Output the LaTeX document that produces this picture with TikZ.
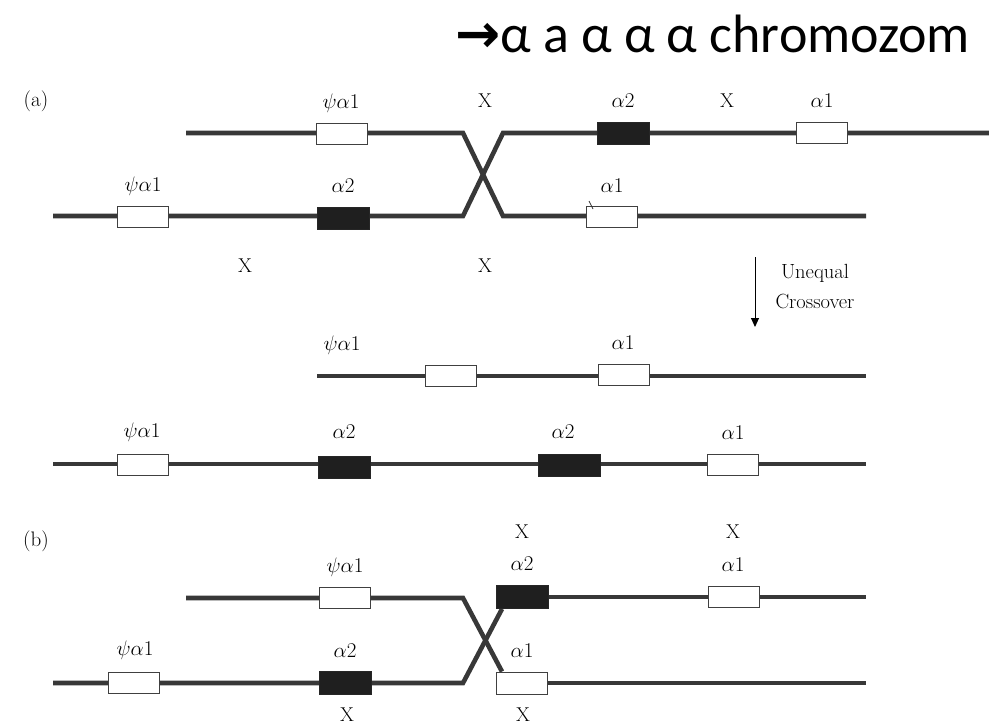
\documentclass[tikz,border=0pt]{standalone}
\usepackage{fix-cm}
\usepackage{fontspec}
\newfontfamily\titlefont{Carlito}
\newfontfamily\arrowfont{DejaVu Sans}
\usetikzlibrary{arrows.meta}
\tikzset{
  strand/.style={line width=4.6pt, draw=black!78, line join=miter},
  whitegene/.style={draw=black!75, line width=0.9pt, fill=white, minimum width=51, minimum height=21, inner sep=0pt},
  blackgene/.style={draw=black!85, line width=0.9pt, fill=black!88, minimum width=52, minimum height=22, inner sep=0pt},
  lbl/.style={font=\fontsize{21}{25}\selectfont, inner sep=0pt},
  xlbl/.style={font=\fontsize{20}{24}\selectfont, inner sep=0pt},
}
\begin{document}
\begin{tikzpicture}[x=1pt,y=-1pt]
\useasboundingbox (0,0) rectangle (989,726);
% title
\node[anchor=base west, inner sep=0pt, font=\fontsize{54}{58}\selectfont] (title) at (455,52) {{\arrowfont\bfseries →}\titlefont α a α α α chromozom};

% ================= (a) =================
\node[lbl] (la) at (36,101) {(a)};
\coordinate (a1s) at (186,133);
\coordinate (a1k) at (463,133);
\coordinate (a1d) at (503,216);
\coordinate (a1e) at (866,216);
\coordinate (a2s) at (53,216);
\coordinate (a2k) at (463,216);
\coordinate (a2u) at (503,133);
\coordinate (a2e) at (989,133);
\draw[strand] (a1s) -- (a1k) -- (a1d) -- (a1e);
\draw[strand] (a2s) -- (a2k) -- (a2u) -- (a2e);
\node[whitegene] (ta1) at (342,134) {};
\node[blackgene] (ta2) at (623,133) {};
\node[whitegene] (ta3) at (822,133) {};
\node[whitegene] (ba1) at (143,217) {};
\node[blackgene] (ba2) at (343,218) {};
\node[whitegene] (ba3) at (612,217) {};
\draw[black!80, line width=0.8pt] (ba3.north west) ++(3,-5) coordinate (tk1) -- ++(4,8) coordinate (tk2);
\node[lbl] (tl1) at (341,103) {$\psi\alpha1$};
\node[xlbl] (tx1) at (485,101) {X};
\node[lbl] (tl2) at (623,101) {$\alpha2$};
\node[xlbl] (tx2) at (727,101) {X};
\node[lbl] (tl3) at (822,101) {$\alpha1$};
\node[lbl] (bl1) at (143,186) {$\psi\alpha1$};
\node[lbl] (bl2) at (343,186) {$\alpha2$};
\node[lbl] (bl3) at (612,186) {$\alpha1$};
\node[xlbl] (bx1) at (245,266) {X};
\node[xlbl] (bx2) at (485,266) {X};

% arrow
\coordinate (arT) at (755,257);
\coordinate (arB) at (755,327);
\draw[line width=1pt, -{Triangle[length=9pt,width=8pt]}] (arT) -- (arB);
\node[inner sep=0pt, font=\fontsize{20.5}{24}\selectfont] (uq) at (815,273) {Unequal};
\node[inner sep=0pt, font=\fontsize{20.5}{24}\selectfont] (co) at (815,301) {Crossover};

% ================= middle =================
\coordinate (m1s) at (317,376);
\coordinate (m1e) at (866,376);
\coordinate (m2s) at (53,464);
\coordinate (m2e) at (866,464);
\draw[strand] (m1s) -- (m1e);
\draw[strand] (m2s) -- (m2e);
\node[whitegene] (m1a) at (451,376) {};
\node[whitegene] (m1b) at (624,375) {};
\node[whitegene] (m2a) at (143,465) {};
\node[blackgene] (m2b) at (344,467) {};
\node[blackgene, minimum width=62] (m2c) at (569,465) {};
\node[whitegene] (m2d) at (733,465) {};
\node[lbl] (ml1) at (342,345) {$\psi\alpha1$};
\node[lbl] (ml2) at (623,343) {$\alpha1$};
\node[lbl] (ml3) at (142,432) {$\psi\alpha1$};
\node[lbl] (ml4) at (344,432) {$\alpha2$};
\node[lbl] (ml5) at (563,432) {$\alpha2$};
\node[lbl] (ml6) at (733,433) {$\alpha1$};

% ================= (b) =================
\node[lbl] (lb) at (36,541) {(b)};
\node[whitegene, minimum height=22] (bb3) at (522,683) {};
\node[blackgene, minimum height=23] (bb4) at (522,597) {};
\coordinate (b1s) at (186,598);
\coordinate (b1k) at (463,598);
\coordinate (b1e) at (866,683);
\coordinate (b2s) at (53,683);
\coordinate (b2k) at (463,683);
\coordinate (b2e) at (866,597);
\draw[strand] (b1s) -- (b1k) -- ([xshift=-20]bb3.north) ;
\draw[strand] (bb3.east) -- (b1e);
\draw[strand] (b2s) -- (b2k) -- ([xshift=-20]bb4.south);
\draw[strand] (bb4.east) -- (b2e);
\node[whitegene, minimum height=22] at (522,683) {};
\node[blackgene, minimum height=23] at (522,597) {};
\node[whitegene] (bt1) at (345,598) {};
\node[whitegene] (bt2) at (734,597) {};
\node[whitegene] (bb1) at (134,683) {};
\node[blackgene, minimum height=23] (bb2) at (345,683) {};
\node[xlbl] (btx1) at (522,532) {X};
\node[xlbl] (btx2) at (733,532) {X};
\node[lbl] (btl1) at (345,567) {$\psi\alpha1$};
\node[lbl] (btl2) at (522,564) {$\alpha2$};
\node[lbl] (btl3) at (733,565) {$\alpha1$};
\node[lbl] (bbl1) at (135,650) {$\psi\alpha1$};
\node[lbl] (bbl2) at (345,651) {$\alpha2$};
\node[lbl] (bbl3) at (522,651) {$\alpha1$};
\node[xlbl] (bbx1) at (347,715) {X};
\node[xlbl] (bbx2) at (523,715) {X};
\end{tikzpicture}
\end{document}
